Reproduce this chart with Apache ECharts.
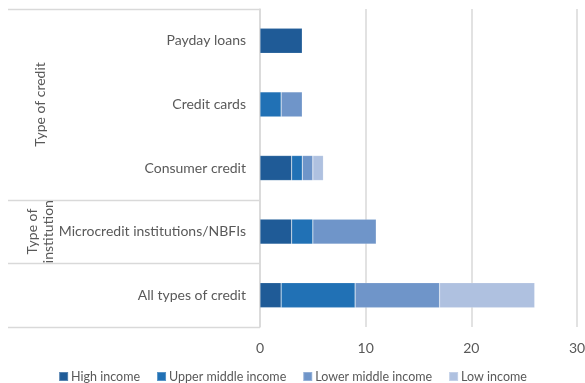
<!DOCTYPE html>
<html>
<head>
<meta charset="utf-8">
<script src="https://cdn.jsdelivr.net/npm/echarts@6/dist/echarts.min.js"></script>
<style>
  html, body { margin: 0; padding: 0; background: #fff; }
  #chart { width: 585px; height: 383px; }
</style>
</head>
<body>
<div id="chart"></div>
<script>
// Categories (top to bottom) and stacked values by income group
const categories = ['Payday loans', 'Credit cards', 'Consumer credit', 'Microcredit institutions/NBFIs', 'All types of credit'];
const highIncome = [4, 0, 3, 3, 2];
const upperMiddleIncome = [0, 2, 1, 2, 7];
const lowerMiddleIncome = [0, 2, 1, 6, 8];
const lowIncome = [0, 0, 1, 0, 9];
const seriesNames = ['High income', 'Upper middle income', 'Lower middle income', 'Low income'];
const xTicks = [0, 10, 20, 30];

// Group bands on the category axis: [label lines, first category, last category]
const groups = [
  { lines: ['Type of credit'], from: 0, to: 2 },
  { lines: ['Type of', 'institution'], from: 3, to: 3 }
];

const colors = ['#1f5b97', '#2171b5', '#6f95c9', '#afc1e0'];
const textColor = '#595959';
const lineColor = '#d9d9d9';
const fontFamily = 'Lato, "Open Sans", sans-serif';

const chart = echarts.init(document.getElementById('chart'), null, { renderer: 'canvas' });

const values = [highIncome, upperMiddleIncome, lowerMiddleIncome, lowIncome];
const series = seriesNames.map((name, i) => ({
  name,
  type: 'bar',
  stack: 'total',
  barWidth: 25,
  data: values[i].map(v => (v === 0 ? null : v)),
  itemStyle: { color: colors[i], borderColor: 'rgba(255,255,255,0.25)', borderWidth: 0.6 },
  emphasis: { disabled: true }
}));

chart.setOption({
  animation: false,
  textStyle: { fontFamily },
  grid: { left: 260, right: 8, top: 9, bottom: 56, containLabel: false, outerBoundsMode: 'none' },
  legend: {
    data: seriesNames,
    bottom: 0,
    left: 'center',
    padding: [0, 5, 0, 5],
    itemWidth: 9,
    itemHeight: 9,
    itemGap: 16,
    icon: 'rect',
    textStyle: { color: textColor, fontSize: 12.5, fontFamily, padding: [0, 0, 0, -2] }
  },
  xAxis: {
    type: 'value',
    min: xTicks[0],
    max: xTicks[xTicks.length - 1],
    interval: 10,
    axisLine: { show: false },
    axisTick: { show: false },
    axisLabel: { color: textColor, fontSize: 14, margin: 14, fontFamily },
    splitLine: { show: true, lineStyle: { color: lineColor, width: 1.5 } }
  },
  yAxis: {
    type: 'category',
    inverse: true,
    data: categories,
    axisLine: { show: true, lineStyle: { color: lineColor, width: 1.5 } },
    axisTick: { show: false },
    axisLabel: { color: textColor, fontSize: 14, margin: 14, fontFamily }
  },
  series
});

// Table-style dividers and rotated group titles to the left of the axis
function drawGroups() {
  const x0 = 8;
  const xAxisPx = chart.convertToPixel({ xAxisIndex: 0 }, 0);
  const step = chart.convertToPixel({ yAxisIndex: 0 }, 1) - chart.convertToPixel({ yAxisIndex: 0 }, 0);
  const edge = i => chart.convertToPixel({ yAxisIndex: 0 }, i) - step / 2;
  const boundaries = [0, 3, 4, 5].map(edge);
  const elements = boundaries.map(y => ({
    type: 'line',
    shape: { x1: x0, y1: Math.round(y) + 0.5, x2: xAxisPx, y2: Math.round(y) + 0.5 },
    style: { stroke: lineColor, lineWidth: 1.5 },
    silent: true
  }));
  groups.forEach(g => {
    const yMid = (edge(g.from) + edge(g.to + 1)) / 2;
    const lh = 16;
    const n = g.lines.length;
    g.lines.forEach((t, k) => {
      elements.push({
        type: 'text',
        x: 40 - (n - 1) * lh / 2 + k * lh,
        y: yMid,
        rotation: Math.PI / 2,
        style: {
          text: t,
          fill: textColor,
          font: '14px ' + fontFamily,
          align: 'center',
          verticalAlign: 'middle'
        },
        silent: true
      });
    });
  });
  chart.setOption({ graphic: { elements } });
}
drawGroups();
</script>
</body>
</html>
